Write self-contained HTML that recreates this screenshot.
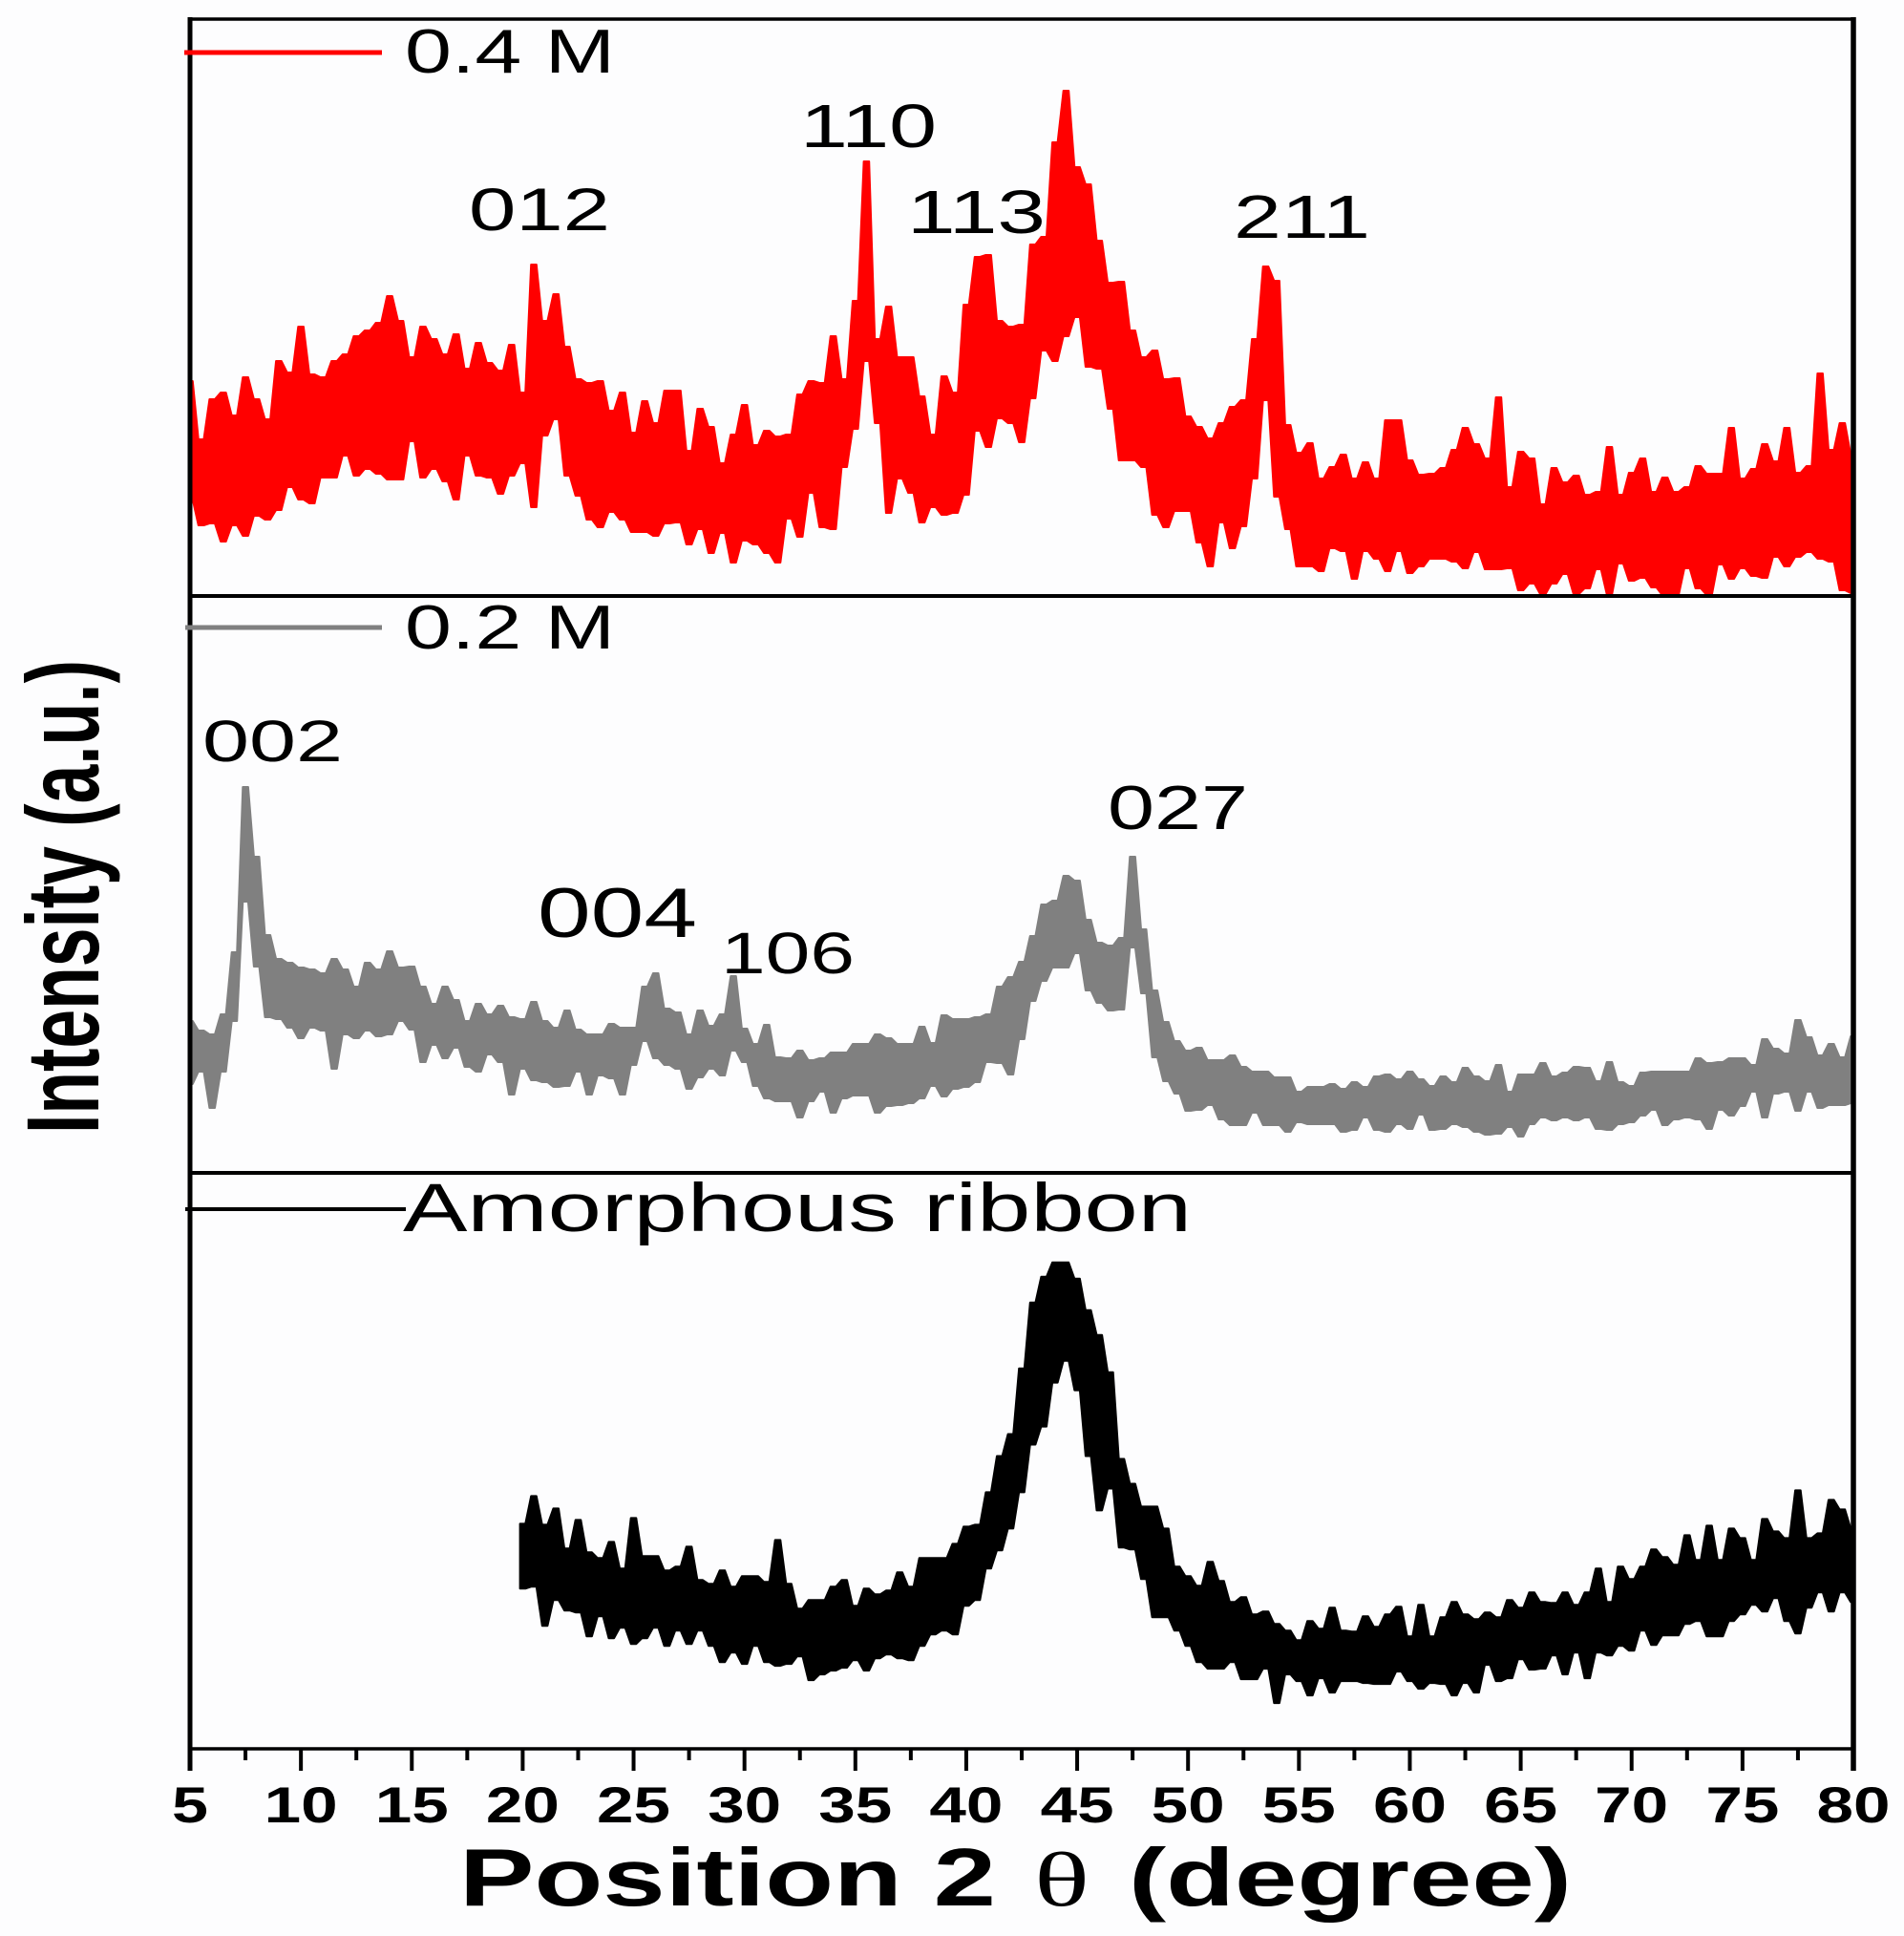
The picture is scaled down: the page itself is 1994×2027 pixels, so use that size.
<!DOCTYPE html>
<html lang="en">
<head>
<meta charset="utf-8">
<title>XRD patterns</title>
<style>
html,body{margin:0;padding:0;background:#fdfdfe;}
svg{display:block;}
text{font-family:"Liberation Sans",Arial,sans-serif;fill:#000;}
</style>
</head>
<body>
<svg id="chart" xmlns="http://www.w3.org/2000/svg" width="1994" height="2027" viewBox="0 0 1994 2027">
  <rect x="0" y="0" width="1994" height="2027" fill="#fdfdfe"/>
  <g id="series"></g>
  <g id="axes"></g>

  <line x1="193" y1="55" x2="400" y2="55" stroke="#ff0000" stroke-width="5"/>
  <text x="424" y="76" font-size="65" textLength="220" lengthAdjust="spacingAndGlyphs">0.4 M</text>
  <line x1="194" y1="657" x2="400" y2="657" stroke="#808080" stroke-width="5"/>
  <text x="424" y="679" font-size="65" textLength="220" lengthAdjust="spacingAndGlyphs">0.2 M</text>
  <line x1="194" y1="1266" x2="425" y2="1266" stroke="#000" stroke-width="4"/>
  <text x="422" y="1289" font-size="71" textLength="826" lengthAdjust="spacingAndGlyphs">Amorphous ribbon</text>

  <text x="491" y="241" font-size="63" textLength="148" lengthAdjust="spacingAndGlyphs">012</text>
  <text x="838" y="154" font-size="64" textLength="143" lengthAdjust="spacingAndGlyphs">110</text>
  <text x="950" y="244" font-size="64" textLength="145" lengthAdjust="spacingAndGlyphs">113</text>
  <text x="1292" y="249" font-size="64" textLength="143" lengthAdjust="spacingAndGlyphs">211</text>
  <text x="212" y="797" font-size="61" textLength="147" lengthAdjust="spacingAndGlyphs">002</text>
  <text x="563" y="981" font-size="73" textLength="167" lengthAdjust="spacingAndGlyphs">004</text>
  <text x="755" y="1019" font-size="61" textLength="140" lengthAdjust="spacingAndGlyphs">106</text>
  <text x="1160" y="868" font-size="65" textLength="147" lengthAdjust="spacingAndGlyphs">027</text>

  <text x="481" y="1995" font-size="85" font-weight="700" textLength="562" lengthAdjust="spacingAndGlyphs">Position 2</text>
  <text x="1083" y="1995" font-size="80" textLength="58" lengthAdjust="spacingAndGlyphs" style="font-family:'Liberation Serif',serif">θ</text>
  <text x="1182" y="1995" font-size="85" font-weight="700" textLength="464" lengthAdjust="spacingAndGlyphs">(degree)</text>

  <text transform="translate(103,1187) rotate(-90)" x="0" y="0" font-size="108" font-weight="700" textLength="496" lengthAdjust="spacingAndGlyphs">Intensity (a.u.)</text>
</svg>
<script>
// Two-theta sampling of the traced envelopes (degrees)
const angleStep = 0.5;
const redStart = 5;
const grayStart = 5;
const blackStart = 20;

// 0.4 M pattern: upper and lower noise envelope (a.u.)
const redUpper = [225,164,206,213,189,229,206,185,246,234,282,232,229,246,253,272,278,286,314,288,250,282,269,253,274,238,265,244,236,263,213,347,288,316,261,227,223,225,194,213,171,204,181,215,
215,152,196,177,139,169,200,158,173,167,169,211,225,223,272,227,309,455,269,303,250,250,209,169,230,213,305,355,357,288,282,284,368,376,475,529,449,431,372,328,329,278,250,257,227,228,188,177,165,181,198,205,269,345,330,179,150,160,123,135,148,123,140,123,184,184,142,127,
128,134,153,176,159,144,208,114,151,144,96,134,119,126,106,109,156,106,129,144,109,124,109,114,136,128,128,176,123,133,159,141,176,129,136,233,153,181,148];
const redLower = [101,74,76,57,74,63,84,80,90,114,101,97,124,124,147,126,133,128,122,122,162,124,133,120,101,147,126,124,107,126,139,93,168,185,126,105,80,72,88,80,67,67,63,76,
77,54,70,45,66,35,58,54,45,35,81,62,108,72,70,135,175,246,181,87,123,108,77,93,85,87,106,173,156,186,181,161,207,257,246,272,292,240,238,196,142,142,135,85,72,89,89,56,31,77,50,73,123,205,104,70,31,31,26,50,47,18,47,39,26,47,24,31,
39,39,36,29,46,28,28,29,6,13,2,13,23,2,8,28,2,34,16,19,9,1,1,29,8,1,33,18,29,21,19,41,31,41,46,39,36,6,3];

// 0.2 M pattern: upper and lower noise envelope (a.u.)
const grayUpper = [159,149,145,166,231,404,331,249,224,220,215,213,209,224,213,195,220,213,232,215,216,195,177,195,181,159,177,166,175,163,161,179,159,152,170,150,145,145,156,152,152,195,209,172,168,145,170,154,166,
206,151,135,155,121,120,128,118,120,126,126,135,135,145,141,135,135,153,136,165,161,161,163,166,195,205,221,248,281,285,311,306,265,241,238,246,331,255,191,158,138,128,131,118,118,123,111,106,106,100,
100,85,90,90,93,88,95,90,101,103,98,106,98,91,101,95,110,101,96,113,85,103,103,115,101,105,111,110,96,116,95,91,105,106,106,106,106,120,115,116,120,120,113,140,130,125,160,142,123,135,121,143];
const grayLower = [93,106,68,106,159,284,216,163,161,152,141,152,149,109,145,141,149,143,145,159,150,116,134,120,131,111,106,124,116,82,109,97,95,90,91,106,82,102,99,82,113,138,120,113,109,88,100,109,102,
128,116,91,78,75,75,58,75,85,63,78,81,81,63,70,71,73,78,91,80,88,90,95,116,115,103,140,180,201,215,215,230,191,178,170,171,236,188,121,96,83,65,66,71,56,50,50,63,50,50,
43,53,51,51,51,43,45,58,45,43,51,46,61,45,46,51,48,43,40,41,48,38,51,58,55,58,55,58,46,45,51,53,60,66,50,56,58,56,46,66,60,70,85,58,83,85,65,85,68,71,71,73];

// Amorphous ribbon pattern: upper and lower noise envelope (a.u.)
const blackUpper = [236,265,235,252,210,240,206,200,217,189,242,202,202,187,191,212,177,173,187,170,181,181,175,219,173,147,156,156,170,177,150,168,162,166,185,170,200,200,200,215,233,235,269,307,330,399,468,495,510,510,493,460,434,395,
304,278,254,254,231,191,181,171,196,176,154,159,141,144,131,124,114,134,126,148,124,123,139,128,141,149,118,151,118,138,154,141,136,143,138,156,148,164,154,153,164,151,164,189,154,191,178,191,209,201,193,224,198,234,198,231,221,198,241,228,221,271,221,226,261,251,231];
const blackLower = [168,170,129,156,145,143,118,139,116,127,110,116,127,108,124,110,124,108,91,101,89,108,91,87,89,97,72,78,82,85,93,82,95,99,95,93,108,120,124,120,150,156,189,208,231,269,319,338,384,407,376,307,250,273,
211,209,178,138,138,124,108,91,84,84,91,73,73,84,48,78,71,56,74,59,71,71,69,68,68,81,71,63,69,68,56,69,59,88,71,74,94,83,84,98,78,101,74,101,98,108,103,124,109,119,119,131,134,118,118,134,141,151,144,158,134,121,148,164,144,164,154];

// Axis tick values
const majorTicks = [5,10,15,20,25,30,35,40,45,50,55,60,65,70,75,80];
const minorTicks = [7.5,12.5,17.5,22.5,27.5,32.5,37.5,42.5,47.5,52.5,57.5,62.5,67.5,72.5,77.5];
const tickLabels = ["5","10","15","20","25","30","35","40","45","50","55","60","65","70","75","80"];

// Scale configuration
const xDomainMin = 5, xDomainMax = 80, plotLeft = 199, plotRight = 1941;
const intensityDomain = 604;
const redPanelTop = 20, redPanelBottom = 624;
const grayPanelTop = 624, grayPanelBottom = 1228;
const blackPanelTop = 1228, blackPanelBottom = 1831;
const spikeHalfWidth = 0.12;

function xScale(t) {
  return plotLeft + (t - xDomainMin) * (plotRight - plotLeft) / (xDomainMax - xDomainMin);
}
function panelScale(top, bottom) {
  return function (v) { return bottom - v * (bottom - top) / intensityDomain; };
}

const NS = 'http://www.w3.org/2000/svg';
const seriesLayer = document.getElementById('series');
const axesLayer = document.getElementById('axes');

function samplePoints(t, v, yScale, reverse) {
  const a = Math.max(xDomainMin, t - spikeHalfWidth);
  const b = Math.min(xDomainMax, t + spikeHalfWidth);
  const y = yScale(v).toFixed(1);
  const first = (reverse ? xScale(b) : xScale(a)).toFixed(1) + ',' + y;
  const second = (reverse ? xScale(a) : xScale(b)).toFixed(1) + ',' + y;
  return [first, second];
}

function bandPath(start, upper, lower, yScale) {
  let pts = [];
  for (let i = 0; i < upper.length; i++) {
    pts = pts.concat(samplePoints(start + i * angleStep, upper[i], yScale, false));
  }
  for (let i = lower.length - 1; i >= 0; i--) {
    pts = pts.concat(samplePoints(start + i * angleStep, lower[i], yScale, true));
  }
  return 'M' + pts.join('L') + 'Z';
}

const redPath = document.createElementNS(NS, 'path');


redPath.setAttribute('d', bandPath(redStart, redUpper, redLower, panelScale(redPanelTop, redPanelBottom)));
redPath.setAttribute('fill', '#ff0000');
redPath.setAttribute('stroke', '#ff0000');
redPath.setAttribute('stroke-width', '2');
redPath.setAttribute('stroke-linejoin', 'round');
seriesLayer.appendChild(redPath);

const grayPath = document.createElementNS(NS, 'path');


grayPath.setAttribute('d', bandPath(grayStart, grayUpper, grayLower, panelScale(grayPanelTop, grayPanelBottom)));
grayPath.setAttribute('fill', '#808080');
grayPath.setAttribute('stroke', '#808080');
grayPath.setAttribute('stroke-width', '2');
grayPath.setAttribute('stroke-linejoin', 'round');
seriesLayer.appendChild(grayPath);

const blackPath = document.createElementNS(NS, 'path');


blackPath.setAttribute('d', bandPath(blackStart, blackUpper, blackLower, panelScale(blackPanelTop, blackPanelBottom)));
blackPath.setAttribute('fill', '#000000');
blackPath.setAttribute('stroke', '#000000');
blackPath.setAttribute('stroke-width', '2');
blackPath.setAttribute('stroke-linejoin', 'round');
seriesLayer.appendChild(blackPath);

function addRule(x1, y1, x2, y2, w, name) {
  const l = document.createElementNS(NS, 'line');
  
  
  l.setAttribute('x1', x1);
  l.setAttribute('y1', y1);
  l.setAttribute('x2', x2);
  l.setAttribute('y2', y2);
  l.setAttribute('stroke', '#000');
  l.setAttribute('stroke-width', w);
  axesLayer.appendChild(l);
}

addRule(plotLeft, redPanelTop, plotRight, redPanelTop, 3.5, 'frame-top');
addRule(plotLeft, redPanelBottom, plotRight, redPanelBottom, 4, 'panel-divider-upper');
addRule(plotLeft, grayPanelBottom, plotRight, grayPanelBottom, 4, 'panel-divider-lower');
addRule(plotLeft, blackPanelBottom, plotRight, blackPanelBottom, 3.5, 'x-axis-line');
addRule(plotLeft, redPanelTop - 2, plotLeft, 1854, 5, 'y-axis-line');
addRule(plotRight, redPanelTop - 2, plotRight, 1854, 5.5, 'frame-right');

majorTicks.forEach(function (t) {
  addRule(xScale(t), blackPanelBottom, xScale(t), 1854, 4, 'major-tick');
});
minorTicks.forEach(function (t) {
  addRule(xScale(t), blackPanelBottom, xScale(t), 1843, 4, 'minor-tick');
});

tickLabels.forEach(function (label, i) {
  const el = document.createElementNS(NS, 'text');
  
  
  el.setAttribute('x', xScale(majorTicks[i]).toFixed(1));
  el.setAttribute('y', '1908');
  el.setAttribute('font-size', '53');
  el.setAttribute('font-weight', '700');
  el.setAttribute('text-anchor', 'middle');
  el.setAttribute('textLength', label.length === 1 ? '38' : '77');
  el.setAttribute('lengthAdjust', 'spacingAndGlyphs');
  el.textContent = label;
  axesLayer.appendChild(el);
});
</script>
</body>
</html>
